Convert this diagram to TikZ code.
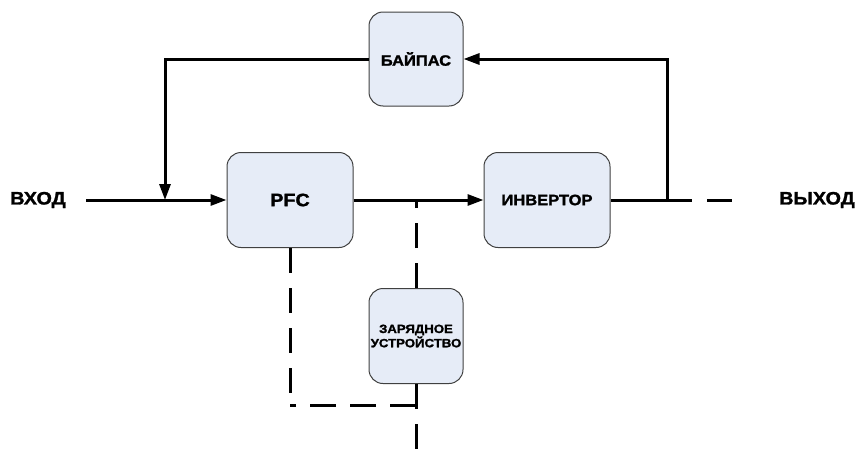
\documentclass[tikz,border=0pt]{standalone}
\usepackage{fontspec}
\setmainfont{Liberation Sans}[FakeStretch=1.1, BoldFeatures={FakeBold=1.5}]
\usetikzlibrary{arrows.meta}
\definecolor{boxfill}{HTML}{E6ECF7}
\definecolor{boxline}{HTML}{404040}
\begin{document}
\begin{tikzpicture}[x=1pt, y=-1pt,
  block/.style={draw=boxline, line width=1pt, fill=boxfill, rounded corners=14pt, inner sep=0pt, align=center},
  wire/.style={line width=3pt},
  dashwire/.style={line width=3pt, dash pattern=on 25pt off 15pt},
  arr/.style={-{Triangle[length=16pt,width=11pt]}},
  lbl/.style={font=\fontsize{18}{20}\selectfont\bfseries}]
\useasboundingbox (0,0) rectangle (859,450);
% blocks
\node[block, minimum width=94pt, minimum height=94pt, font=\fontsize{15}{18}\selectfont\bfseries] (bypass) at (416,59) {БАЙПАС};
\node[block, minimum width=126pt, minimum height=95pt, font=\fontsize{18}{20}\selectfont\bfseries] (pfc) at (290,200) {PFC};
\node[block, minimum width=126pt, minimum height=95pt, font=\fontsize{15}{18}\selectfont\bfseries] (inv) at (547,200) {ИНВЕРТОР};
\node[block, minimum width=94pt, minimum height=95pt, font=\fontsize{12}{12}\selectfont\bfseries] (charger) at (416,336) {ЗАРЯДНОЕ\\УСТРОЙСТВО};
\node[lbl] (vhod) at (38,200) {ВХОД};
\node[lbl] (vyhod) at (817,200) {ВЫХОД};
% points on the lines
\coordinate (in) at (86,200);
\coordinate (inbyp) at (165,200);
\coordinate (byl) at (165,59);
\coordinate (byr) at (667,59);
\coordinate (tapo) at (667,200);
\coordinate (out) at (734,200);
\coordinate (tapc) at (416,200);
\coordinate (corner) at (416,405);
\coordinate (pfcc) at (290,405);
\coordinate (bottom) at (416,450);
% solid lines
\draw[wire, arr] (in) -- (pfc.west);
\draw[wire, arr] (bypass.west) -- (byl) -- (inbyp);
\draw[wire, arr] (pfc.east) -- (inv.west);
\draw[wire] (inv.east) -- (tapo);
\draw[wire, arr] (tapo) -- (byr) -- (bypass.east);
% dashed lines
\draw[dashwire] (tapo) -- (out);
\draw[dashwire] (charger.north) -- (tapc);
\draw[dashwire] (charger.south) -- (bottom);
\draw[dashwire, dash pattern=on 26pt off 14pt] (corner) -- (pfcc);
\draw[dashwire] (pfc.south) -- (pfcc);
\end{tikzpicture}
\end{document}
